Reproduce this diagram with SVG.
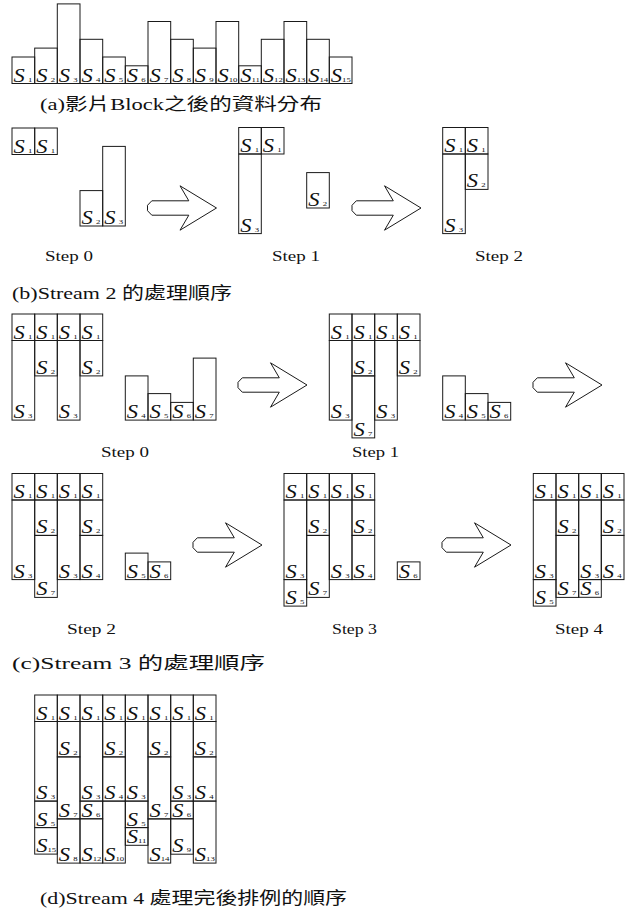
<svg xmlns="http://www.w3.org/2000/svg" xmlns:xlink="http://www.w3.org/1999/xlink" width="632" height="913" viewBox="0 0 632 913">
<style>
.b{fill:none;stroke:#1a1a1a;stroke-width:1}
.l{font-family:"Liberation Serif",serif;font-style:italic;font-size:18px;fill:#111}
.l tspan{font-size:7px;font-style:normal}
.st{font-family:"Liberation Serif",serif;font-size:15px;fill:#111}
.cap{font-family:"Liberation Serif","Noto Sans CJK TC",serif;font-size:17px;fill:#111}
.ar{fill:#fff;stroke:#1a1a1a;stroke-width:1}
</style>
<defs>
<path id="arrow" class="ar" d="M4.3,-7.2 L41.3,-7.2 L32.5,-22.2 L69,0 L32.5,22.2 L41.3,7.2 L4.3,7.2 L0,2.7 L0,-2.7 Z"/>
</defs>
<rect width="632" height="913" fill="#fff"/>

<g id="part-a">
<rect class="b" x="12" y="57" width="22.7" height="26.5"/>
<rect class="b" x="34.7" y="48.1" width="22.6" height="35.4"/>
<rect class="b" x="57.3" y="3.9" width="22.7" height="79.6"/>
<rect class="b" x="80" y="39.3" width="22.7" height="44.2"/>
<rect class="b" x="102.7" y="57" width="22.6" height="26.5"/>
<rect class="b" x="125.3" y="65.8" width="22.7" height="17.7"/>
<rect class="b" x="148" y="21.5" width="22.7" height="62"/>
<rect class="b" x="170.7" y="39.3" width="22.6" height="44.2"/>
<rect class="b" x="193.3" y="48.1" width="22.7" height="35.4"/>
<rect class="b" x="216" y="21.5" width="22.7" height="62"/>
<rect class="b" x="238.7" y="65.8" width="22.6" height="17.7"/>
<rect class="b" x="261.3" y="39.3" width="22.7" height="44.2"/>
<rect class="b" x="284" y="21.5" width="22.7" height="62"/>
<rect class="b" x="306.7" y="39.3" width="22.6" height="44.2"/>
<rect class="b" x="329.3" y="57" width="22.7" height="26.5"/>
<text class="l" transform="translate(13.5,81.5) scale(1.25,1)">S<tspan dx="2.6">1</tspan></text>
<text class="l" transform="translate(36.2,81.5) scale(1.25,1)">S<tspan dx="2.6">2</tspan></text>
<text class="l" transform="translate(58.8,81.5) scale(1.25,1)">S<tspan dx="2.6">3</tspan></text>
<text class="l" transform="translate(81.5,81.5) scale(1.25,1)">S<tspan dx="2.6">4</tspan></text>
<text class="l" transform="translate(104.2,81.5) scale(1.25,1)">S<tspan dx="2.6">5</tspan></text>
<text class="l" transform="translate(126.8,81.5) scale(1.25,1)">S<tspan dx="2.6">6</tspan></text>
<text class="l" transform="translate(149.5,81.5) scale(1.25,1)">S<tspan dx="2.6">7</tspan></text>
<text class="l" transform="translate(172.2,81.5) scale(1.25,1)">S<tspan dx="2.6">8</tspan></text>
<text class="l" transform="translate(194.8,81.5) scale(1.25,1)">S<tspan dx="2.6">9</tspan></text>
<text class="l" transform="translate(217.5,81.5) scale(1.25,1)">S<tspan dx="0">10</tspan></text>
<text class="l" transform="translate(240.2,81.5) scale(1.25,1)">S<tspan dx="0">11</tspan></text>
<text class="l" transform="translate(262.8,81.5) scale(1.25,1)">S<tspan dx="0">12</tspan></text>
<text class="l" transform="translate(285.5,81.5) scale(1.25,1)">S<tspan dx="0">13</tspan></text>
<text class="l" transform="translate(308.2,81.5) scale(1.25,1)">S<tspan dx="0">14</tspan></text>
<text class="l" transform="translate(330.8,81.5) scale(1.25,1)">S<tspan dx="0">15</tspan></text>
<text class="cap" x="40" y="110" textLength="282" lengthAdjust="spacingAndGlyphs">(a)影片Block之後的資料分布</text>
</g>

<g id="b-step0">
<rect class="b" x="12" y="128" width="22.7" height="26.5"/>
<rect class="b" x="34.7" y="128" width="22.6" height="26.5"/>
<rect class="b" x="80" y="190.6" width="22.7" height="35.4"/>
<rect class="b" x="102.7" y="146.4" width="22.6" height="79.6"/>
<text class="l" transform="translate(13.5,152.5) scale(1.25,1)">S<tspan dx="2.6">1</tspan></text>
<text class="l" transform="translate(36.2,152.5) scale(1.25,1)">S<tspan dx="2.6">1</tspan></text>
<text class="l" transform="translate(81.5,224) scale(1.25,1)">S<tspan dx="2.6">2</tspan></text>
<text class="l" transform="translate(104.2,224) scale(1.25,1)">S<tspan dx="2.6">3</tspan></text>
<text class="st" x="45" y="261" textLength="48" lengthAdjust="spacingAndGlyphs">Step 0</text>
</g>

<g id="b-step1">
<rect class="b" x="238.7" y="127.5" width="22.6" height="26.5"/>
<rect class="b" x="261.3" y="127.5" width="22.7" height="26.5"/>
<rect class="b" x="238.7" y="154" width="22.6" height="79.6"/>
<rect class="b" x="306.7" y="172.6" width="22.6" height="35.4"/>
<text class="l" transform="translate(240.2,152) scale(1.25,1)">S<tspan dx="2.6">1</tspan></text>
<text class="l" transform="translate(262.8,152) scale(1.25,1)">S<tspan dx="2.6">1</tspan></text>
<text class="l" transform="translate(240.2,231.6) scale(1.25,1)">S<tspan dx="2.6">3</tspan></text>
<text class="l" transform="translate(308.2,206) scale(1.25,1)">S<tspan dx="2.6">2</tspan></text>
<text class="st" x="272" y="261" textLength="48" lengthAdjust="spacingAndGlyphs">Step 1</text>
</g>

<g id="b-step2">
<rect class="b" x="442.7" y="127.5" width="22.6" height="26.5"/>
<rect class="b" x="465.3" y="127.5" width="22.7" height="26.5"/>
<rect class="b" x="442.7" y="154" width="22.6" height="79.6"/>
<rect class="b" x="465.3" y="154" width="22.7" height="35.4"/>
<text class="l" transform="translate(444.2,152) scale(1.25,1)">S<tspan dx="2.6">1</tspan></text>
<text class="l" transform="translate(466.8,152) scale(1.25,1)">S<tspan dx="2.6">1</tspan></text>
<text class="l" transform="translate(466.8,187.4) scale(1.25,1)">S<tspan dx="2.6">2</tspan></text>
<text class="l" transform="translate(444.2,231.6) scale(1.25,1)">S<tspan dx="2.6">3</tspan></text>
<text class="st" x="475" y="261" textLength="48" lengthAdjust="spacingAndGlyphs">Step 2</text>
<text class="cap" x="12" y="299" textLength="220" lengthAdjust="spacingAndGlyphs">(b)Stream 2 的處理順序</text>
</g>

<g id="c-step0">
<rect class="b" x="12" y="314" width="22.7" height="26.5"/>
<rect class="b" x="34.7" y="314" width="22.6" height="26.5"/>
<rect class="b" x="57.3" y="314" width="22.7" height="26.5"/>
<rect class="b" x="80" y="314" width="22.7" height="26.5"/>
<rect class="b" x="12" y="340.5" width="22.7" height="79.6"/>
<rect class="b" x="34.7" y="340.5" width="22.6" height="35.4"/>
<rect class="b" x="57.3" y="340.5" width="22.7" height="79.6"/>
<rect class="b" x="80" y="340.5" width="22.7" height="35.4"/>
<rect class="b" x="125.3" y="375.9" width="22.7" height="44.2"/>
<rect class="b" x="148" y="393.6" width="22.7" height="26.5"/>
<rect class="b" x="170.7" y="402.4" width="22.6" height="17.7"/>
<rect class="b" x="193.3" y="358.1" width="22.7" height="62"/>
<text class="l" transform="translate(13.5,338.5) scale(1.25,1)">S<tspan dx="2.6">1</tspan></text>
<text class="l" transform="translate(36.2,338.5) scale(1.25,1)">S<tspan dx="2.6">1</tspan></text>
<text class="l" transform="translate(58.8,338.5) scale(1.25,1)">S<tspan dx="2.6">1</tspan></text>
<text class="l" transform="translate(81.5,338.5) scale(1.25,1)">S<tspan dx="2.6">1</tspan></text>
<text class="l" transform="translate(36.2,373.9) scale(1.25,1)">S<tspan dx="2.6">2</tspan></text>
<text class="l" transform="translate(81.5,373.9) scale(1.25,1)">S<tspan dx="2.6">2</tspan></text>
<text class="l" transform="translate(13.5,418.1) scale(1.25,1)">S<tspan dx="2.6">3</tspan></text>
<text class="l" transform="translate(58.8,418.1) scale(1.25,1)">S<tspan dx="2.6">3</tspan></text>
<text class="l" transform="translate(126.8,418.1) scale(1.25,1)">S<tspan dx="2.6">4</tspan></text>
<text class="l" transform="translate(149.5,418.1) scale(1.25,1)">S<tspan dx="2.6">5</tspan></text>
<text class="l" transform="translate(172.2,418.1) scale(1.25,1)">S<tspan dx="2.6">6</tspan></text>
<text class="l" transform="translate(194.8,418.1) scale(1.25,1)">S<tspan dx="2.6">7</tspan></text>
<text class="st" x="101" y="457" textLength="48" lengthAdjust="spacingAndGlyphs">Step 0</text>
</g>

<g id="c-step1">
<rect class="b" x="329.3" y="314" width="22.7" height="26.5"/>
<rect class="b" x="352" y="314" width="22.7" height="26.5"/>
<rect class="b" x="374.7" y="314" width="22.6" height="26.5"/>
<rect class="b" x="397.3" y="314" width="22.7" height="26.5"/>
<rect class="b" x="329.3" y="340.5" width="22.7" height="79.6"/>
<rect class="b" x="352" y="340.5" width="22.7" height="35.4"/>
<rect class="b" x="352" y="375.9" width="22.7" height="62"/>
<rect class="b" x="374.7" y="340.5" width="22.6" height="79.6"/>
<rect class="b" x="397.3" y="340.5" width="22.7" height="35.4"/>
<rect class="b" x="442.7" y="375.9" width="22.6" height="44.2"/>
<rect class="b" x="465.3" y="393.6" width="22.7" height="26.5"/>
<rect class="b" x="488" y="402.4" width="22.7" height="17.7"/>
<text class="l" transform="translate(330.8,338.5) scale(1.25,1)">S<tspan dx="2.6">1</tspan></text>
<text class="l" transform="translate(353.5,338.5) scale(1.25,1)">S<tspan dx="2.6">1</tspan></text>
<text class="l" transform="translate(376.2,338.5) scale(1.25,1)">S<tspan dx="2.6">1</tspan></text>
<text class="l" transform="translate(398.8,338.5) scale(1.25,1)">S<tspan dx="2.6">1</tspan></text>
<text class="l" transform="translate(353.5,373.9) scale(1.25,1)">S<tspan dx="2.6">2</tspan></text>
<text class="l" transform="translate(398.8,373.9) scale(1.25,1)">S<tspan dx="2.6">2</tspan></text>
<text class="l" transform="translate(330.8,418.1) scale(1.25,1)">S<tspan dx="2.6">3</tspan></text>
<text class="l" transform="translate(376.2,418.1) scale(1.25,1)">S<tspan dx="2.6">3</tspan></text>
<text class="l" transform="translate(353.5,435.9) scale(1.25,1)">S<tspan dx="2.6">7</tspan></text>
<text class="l" transform="translate(444.2,418.1) scale(1.25,1)">S<tspan dx="2.6">4</tspan></text>
<text class="l" transform="translate(466.8,418.1) scale(1.25,1)">S<tspan dx="2.6">5</tspan></text>
<text class="l" transform="translate(489.5,418.1) scale(1.25,1)">S<tspan dx="2.6">6</tspan></text>
<text class="st" x="352" y="457" textLength="47" lengthAdjust="spacingAndGlyphs">Step 1</text>
</g>

<g id="c-step2">
<rect class="b" x="12" y="473.5" width="22.7" height="26.5"/>
<rect class="b" x="34.7" y="473.5" width="22.6" height="26.5"/>
<rect class="b" x="57.3" y="473.5" width="22.7" height="26.5"/>
<rect class="b" x="80" y="473.5" width="22.7" height="26.5"/>
<rect class="b" x="12" y="500" width="22.7" height="79.6"/>
<rect class="b" x="34.7" y="500" width="22.6" height="35.4"/>
<rect class="b" x="34.7" y="535.4" width="22.6" height="62"/>
<rect class="b" x="57.3" y="500" width="22.7" height="79.6"/>
<rect class="b" x="80" y="500" width="22.7" height="35.4"/>
<rect class="b" x="80" y="535.4" width="22.7" height="44.2"/>
<rect class="b" x="125.3" y="553.1" width="22.7" height="26.5"/>
<rect class="b" x="148" y="561.9" width="22.7" height="17.7"/>
<text class="l" transform="translate(13.5,498) scale(1.25,1)">S<tspan dx="2.6">1</tspan></text>
<text class="l" transform="translate(36.2,498) scale(1.25,1)">S<tspan dx="2.6">1</tspan></text>
<text class="l" transform="translate(58.8,498) scale(1.25,1)">S<tspan dx="2.6">1</tspan></text>
<text class="l" transform="translate(81.5,498) scale(1.25,1)">S<tspan dx="2.6">1</tspan></text>
<text class="l" transform="translate(36.2,533.4) scale(1.25,1)">S<tspan dx="2.6">2</tspan></text>
<text class="l" transform="translate(81.5,533.4) scale(1.25,1)">S<tspan dx="2.6">2</tspan></text>
<text class="l" transform="translate(13.5,577.6) scale(1.25,1)">S<tspan dx="2.6">3</tspan></text>
<text class="l" transform="translate(58.8,577.6) scale(1.25,1)">S<tspan dx="2.6">3</tspan></text>
<text class="l" transform="translate(81.5,577.6) scale(1.25,1)">S<tspan dx="2.6">4</tspan></text>
<text class="l" transform="translate(36.2,595.4) scale(1.25,1)">S<tspan dx="2.6">7</tspan></text>
<text class="l" transform="translate(126.8,577.6) scale(1.25,1)">S<tspan dx="2.6">5</tspan></text>
<text class="l" transform="translate(149.5,577.6) scale(1.25,1)">S<tspan dx="2.6">6</tspan></text>
<text class="st" x="67" y="634" textLength="49" lengthAdjust="spacingAndGlyphs">Step 2</text>
</g>

<g id="c-step3">
<rect class="b" x="284" y="473.5" width="22.7" height="26.5"/>
<rect class="b" x="306.7" y="473.5" width="22.6" height="26.5"/>
<rect class="b" x="329.3" y="473.5" width="22.7" height="26.5"/>
<rect class="b" x="352" y="473.5" width="22.7" height="26.5"/>
<rect class="b" x="284" y="500" width="22.7" height="79.6"/>
<rect class="b" x="284" y="579.6" width="22.7" height="26.5"/>
<rect class="b" x="306.7" y="500" width="22.6" height="35.4"/>
<rect class="b" x="306.7" y="535.4" width="22.6" height="62"/>
<rect class="b" x="329.3" y="500" width="22.7" height="79.6"/>
<rect class="b" x="352" y="500" width="22.7" height="35.4"/>
<rect class="b" x="352" y="535.4" width="22.7" height="44.2"/>
<rect class="b" x="397.3" y="561.9" width="22.7" height="17.7"/>
<text class="l" transform="translate(285.5,498) scale(1.25,1)">S<tspan dx="2.6">1</tspan></text>
<text class="l" transform="translate(308.2,498) scale(1.25,1)">S<tspan dx="2.6">1</tspan></text>
<text class="l" transform="translate(330.8,498) scale(1.25,1)">S<tspan dx="2.6">1</tspan></text>
<text class="l" transform="translate(353.5,498) scale(1.25,1)">S<tspan dx="2.6">1</tspan></text>
<text class="l" transform="translate(308.2,533.4) scale(1.25,1)">S<tspan dx="2.6">2</tspan></text>
<text class="l" transform="translate(353.5,533.4) scale(1.25,1)">S<tspan dx="2.6">2</tspan></text>
<text class="l" transform="translate(285.5,577.6) scale(1.25,1)">S<tspan dx="2.6">3</tspan></text>
<text class="l" transform="translate(330.8,577.6) scale(1.25,1)">S<tspan dx="2.6">3</tspan></text>
<text class="l" transform="translate(353.5,577.6) scale(1.25,1)">S<tspan dx="2.6">4</tspan></text>
<text class="l" transform="translate(285.5,604.1) scale(1.25,1)">S<tspan dx="2.6">5</tspan></text>
<text class="l" transform="translate(308.2,595.4) scale(1.25,1)">S<tspan dx="2.6">7</tspan></text>
<text class="l" transform="translate(398.8,577.6) scale(1.25,1)">S<tspan dx="2.6">6</tspan></text>
<text class="st" x="332" y="634" textLength="45" lengthAdjust="spacingAndGlyphs">Step 3</text>
</g>

<g id="c-step4">
<rect class="b" x="533.3" y="473.5" width="22.7" height="26.5"/>
<rect class="b" x="556" y="473.5" width="22.7" height="26.5"/>
<rect class="b" x="578.7" y="473.5" width="22.6" height="26.5"/>
<rect class="b" x="601.3" y="473.5" width="22.7" height="26.5"/>
<rect class="b" x="533.3" y="500" width="22.7" height="79.6"/>
<rect class="b" x="533.3" y="579.6" width="22.7" height="26.5"/>
<rect class="b" x="556" y="500" width="22.7" height="35.4"/>
<rect class="b" x="556" y="535.4" width="22.7" height="62"/>
<rect class="b" x="578.7" y="500" width="22.6" height="79.6"/>
<rect class="b" x="578.7" y="579.6" width="22.6" height="17.7"/>
<rect class="b" x="601.3" y="500" width="22.7" height="35.4"/>
<rect class="b" x="601.3" y="535.4" width="22.7" height="44.2"/>
<text class="l" transform="translate(534.8,498) scale(1.25,1)">S<tspan dx="2.6">1</tspan></text>
<text class="l" transform="translate(557.5,498) scale(1.25,1)">S<tspan dx="2.6">1</tspan></text>
<text class="l" transform="translate(580.2,498) scale(1.25,1)">S<tspan dx="2.6">1</tspan></text>
<text class="l" transform="translate(602.8,498) scale(1.25,1)">S<tspan dx="2.6">1</tspan></text>
<text class="l" transform="translate(557.5,533.4) scale(1.25,1)">S<tspan dx="2.6">2</tspan></text>
<text class="l" transform="translate(602.8,533.4) scale(1.25,1)">S<tspan dx="2.6">2</tspan></text>
<text class="l" transform="translate(534.8,577.6) scale(1.25,1)">S<tspan dx="2.6">3</tspan></text>
<text class="l" transform="translate(580.2,577.6) scale(1.25,1)">S<tspan dx="2.6">3</tspan></text>
<text class="l" transform="translate(602.8,577.6) scale(1.25,1)">S<tspan dx="2.6">4</tspan></text>
<text class="l" transform="translate(534.8,604.1) scale(1.25,1)">S<tspan dx="2.6">5</tspan></text>
<text class="l" transform="translate(557.5,595.4) scale(1.25,1)">S<tspan dx="2.6">7</tspan></text>
<text class="l" transform="translate(580.2,595.3) scale(1.25,1)">S<tspan dx="2.6">6</tspan></text>
<text class="st" x="555" y="634" textLength="48" lengthAdjust="spacingAndGlyphs">Step 4</text>
<text class="cap" x="12" y="669" textLength="253" lengthAdjust="spacingAndGlyphs">(c)Stream 3 的處理順序</text>
</g>

<g id="part-d">
<rect class="b" x="34.7" y="695" width="22.6" height="26.5"/>
<rect class="b" x="57.3" y="695" width="22.7" height="26.5"/>
<rect class="b" x="80" y="695" width="22.7" height="26.5"/>
<rect class="b" x="102.7" y="695" width="22.6" height="26.5"/>
<rect class="b" x="125.3" y="695" width="22.7" height="26.5"/>
<rect class="b" x="148" y="695" width="22.7" height="26.5"/>
<rect class="b" x="170.7" y="695" width="22.6" height="26.5"/>
<rect class="b" x="193.3" y="695" width="22.7" height="26.5"/>
<rect class="b" x="34.7" y="721.5" width="22.6" height="79.6"/>
<rect class="b" x="34.7" y="801.1" width="22.6" height="26.5"/>
<rect class="b" x="34.7" y="827.6" width="22.6" height="26.5"/>
<rect class="b" x="57.3" y="721.5" width="22.7" height="35.4"/>
<rect class="b" x="57.3" y="756.9" width="22.7" height="62"/>
<rect class="b" x="57.3" y="818.9" width="22.7" height="44.2"/>
<rect class="b" x="80" y="721.5" width="22.7" height="79.6"/>
<rect class="b" x="80" y="801.1" width="22.7" height="17.7"/>
<rect class="b" x="80" y="818.8" width="22.7" height="44.3"/>
<rect class="b" x="102.7" y="721.5" width="22.6" height="35.4"/>
<rect class="b" x="102.7" y="756.9" width="22.6" height="44.2"/>
<rect class="b" x="102.7" y="801.1" width="22.6" height="62"/>
<rect class="b" x="125.3" y="721.5" width="22.7" height="79.6"/>
<rect class="b" x="125.3" y="801.1" width="22.7" height="26.5"/>
<rect class="b" x="125.3" y="827.6" width="22.7" height="17.7"/>
<rect class="b" x="148" y="721.5" width="22.7" height="35.4"/>
<rect class="b" x="148" y="756.9" width="22.7" height="62"/>
<rect class="b" x="148" y="818.9" width="22.7" height="44.2"/>
<rect class="b" x="170.7" y="721.5" width="22.6" height="79.6"/>
<rect class="b" x="170.7" y="801.1" width="22.6" height="17.7"/>
<rect class="b" x="170.7" y="818.8" width="22.6" height="35.4"/>
<rect class="b" x="193.3" y="721.5" width="22.7" height="35.4"/>
<rect class="b" x="193.3" y="756.9" width="22.7" height="44.2"/>
<rect class="b" x="193.3" y="801.1" width="22.7" height="62"/>
<text class="l" transform="translate(36.2,719.5) scale(1.25,1)">S<tspan dx="2.6">1</tspan></text>
<text class="l" transform="translate(58.8,719.5) scale(1.25,1)">S<tspan dx="2.6">1</tspan></text>
<text class="l" transform="translate(81.5,719.5) scale(1.25,1)">S<tspan dx="2.6">1</tspan></text>
<text class="l" transform="translate(104.2,719.5) scale(1.25,1)">S<tspan dx="2.6">1</tspan></text>
<text class="l" transform="translate(126.8,719.5) scale(1.25,1)">S<tspan dx="2.6">1</tspan></text>
<text class="l" transform="translate(149.5,719.5) scale(1.25,1)">S<tspan dx="2.6">1</tspan></text>
<text class="l" transform="translate(172.2,719.5) scale(1.25,1)">S<tspan dx="2.6">1</tspan></text>
<text class="l" transform="translate(194.8,719.5) scale(1.25,1)">S<tspan dx="2.6">1</tspan></text>
<text class="l" transform="translate(58.8,754.9) scale(1.25,1)">S<tspan dx="2.6">2</tspan></text>
<text class="l" transform="translate(104.2,754.9) scale(1.25,1)">S<tspan dx="2.6">2</tspan></text>
<text class="l" transform="translate(149.5,754.9) scale(1.25,1)">S<tspan dx="2.6">2</tspan></text>
<text class="l" transform="translate(194.8,754.9) scale(1.25,1)">S<tspan dx="2.6">2</tspan></text>
<text class="l" transform="translate(36.2,799.1) scale(1.25,1)">S<tspan dx="2.6">3</tspan></text>
<text class="l" transform="translate(81.5,799.1) scale(1.25,1)">S<tspan dx="2.6">3</tspan></text>
<text class="l" transform="translate(104.2,799.1) scale(1.25,1)">S<tspan dx="2.6">4</tspan></text>
<text class="l" transform="translate(126.8,799.1) scale(1.25,1)">S<tspan dx="2.6">3</tspan></text>
<text class="l" transform="translate(172.2,799.1) scale(1.25,1)">S<tspan dx="2.6">3</tspan></text>
<text class="l" transform="translate(194.8,799.1) scale(1.25,1)">S<tspan dx="2.6">4</tspan></text>
<text class="l" transform="translate(36.2,825.6) scale(1.25,1)">S<tspan dx="2.6">5</tspan></text>
<text class="l" transform="translate(58.8,816.9) scale(1.25,1)">S<tspan dx="2.6">7</tspan></text>
<text class="l" transform="translate(81.5,816.8) scale(1.25,1)">S<tspan dx="2.6">6</tspan></text>
<text class="l" transform="translate(126.8,825.6) scale(1.25,1)">S<tspan dx="2.6">5</tspan></text>
<text class="l" transform="translate(149.5,816.9) scale(1.25,1)">S<tspan dx="2.6">7</tspan></text>
<text class="l" transform="translate(172.2,816.8) scale(1.25,1)">S<tspan dx="2.6">6</tspan></text>
<text class="l" transform="translate(36.2,852.1) scale(1.25,1)">S<tspan dx="0">15</tspan></text>
<text class="l" transform="translate(58.8,861.1) scale(1.25,1)">S<tspan dx="2.6">8</tspan></text>
<text class="l" transform="translate(81.5,861.1) scale(1.25,1)">S<tspan dx="0">12</tspan></text>
<text class="l" transform="translate(104.2,861.1) scale(1.25,1)">S<tspan dx="0">10</tspan></text>
<text class="l" transform="translate(126.8,843.3) scale(1.25,1)">S<tspan dx="0">11</tspan></text>
<text class="l" transform="translate(149.5,861.1) scale(1.25,1)">S<tspan dx="0">14</tspan></text>
<text class="l" transform="translate(172.2,852.2) scale(1.25,1)">S<tspan dx="2.6">9</tspan></text>
<text class="l" transform="translate(194.8,861.1) scale(1.25,1)">S<tspan dx="0">13</tspan></text>
<text class="cap" x="40" y="904" textLength="307" lengthAdjust="spacingAndGlyphs">(d)Stream 4 處理完後排例的順序</text>
</g>

<g id="connectors">
<use href="#arrow" transform="translate(147.5,208)"/>
<use href="#arrow" transform="translate(352,208)"/>
<use href="#arrow" transform="translate(238,385)"/>
<use href="#arrow" transform="translate(533,385)"/>
<use href="#arrow" transform="translate(193,545)"/>
<use href="#arrow" transform="translate(442,545)"/>
</g>
</svg>
